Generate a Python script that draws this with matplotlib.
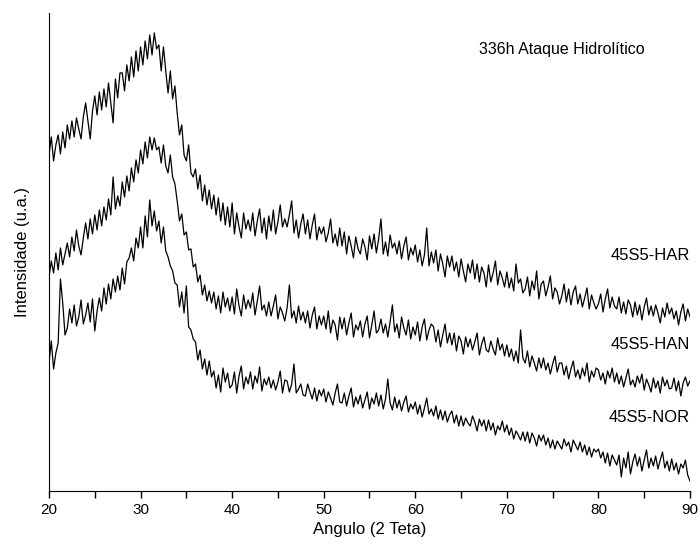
import numpy as np
import matplotlib
matplotlib.use('Agg')
import matplotlib.pyplot as plt
from matplotlib.ticker import MultipleLocator

plt.rcParams['font.family'] = ['Liberation Sans', 'DejaVu Sans']

# 2 Teta de 20 a 90, passo 0.25 (intensidade em u.a.)
angulo = np.arange(20, 90.001, 0.25)

har = [
    336, 354, 330, 346, 356, 337, 359, 343,
    366, 352, 370, 354, 373, 362, 352, 374,
    388, 370, 352, 380, 395, 376, 399, 381,
    402, 384, 408, 388, 368, 412, 393, 418,
    418, 400, 426, 410, 434, 414, 440, 420,
    444, 426, 450, 432, 456, 436, 458, 442,
    446, 420, 444, 420, 398, 420, 392, 405,
    378, 356, 366, 336, 330, 346, 318, 314,
    322, 302, 316, 290, 306, 286, 301, 282,
    296, 276, 293, 270, 288, 266, 284, 264,
    288, 257, 278, 264, 253, 278, 262, 271,
    260, 278, 255, 270, 282, 258, 273, 252,
    275, 260, 281, 257, 269, 286, 264, 272,
    264, 276, 290, 258, 271, 253, 267, 277,
    257, 271, 252, 266, 277, 251, 264, 257,
    264, 249, 258, 272, 248, 257, 245, 263,
    245, 259, 237, 255, 245, 233, 254, 242,
    237, 252, 244, 231, 255, 242, 257, 238,
    252, 272, 237, 249, 235, 256, 243, 248,
    237, 250, 232, 245, 254, 231, 243, 236,
    246, 229, 241, 225, 236, 263, 225, 239,
    228, 241, 220, 237, 227, 214, 235, 224,
    235, 220, 229, 214, 232, 220, 209, 227,
    218, 231, 212, 227, 209, 224, 218, 204,
    226, 209, 218, 230, 206, 220, 213, 204,
    219, 203, 213, 200, 227, 208, 212, 198,
    202, 214, 195, 210, 201, 220, 192, 207,
    210, 195, 204, 215, 192, 203, 199, 187,
    195, 207, 189, 202, 186, 199, 205, 187,
    197, 184, 193, 203, 182, 196, 188, 182,
    187, 197, 179, 192, 202, 183, 194, 185,
    182, 194, 178, 189, 177, 191, 186, 174,
    189, 176, 186, 171, 184, 193, 176, 185,
    175, 186, 178, 168, 183, 174, 188, 177,
    183, 172, 180, 166, 179, 187, 170, 182,
    174,
]

han = [
    214, 230, 218, 238, 221, 243, 226, 237,
    248, 234, 254, 240, 261, 245, 236, 253,
    268, 252, 272, 257, 276, 261, 281, 265,
    284, 271, 292, 276, 314, 282, 295, 285,
    309, 294, 315, 300, 323, 309, 331, 318,
    341, 327, 349, 333, 354, 341, 353, 341,
    344, 328, 346, 325, 318, 336, 314, 307,
    290, 270, 277, 256, 259, 241, 242, 224,
    227, 209, 216, 196, 206, 190, 200, 188,
    199, 182, 195, 178, 199, 184, 193, 180,
    194, 177, 202, 185, 175, 196, 182, 191,
    183, 198, 176, 190, 205, 181, 186, 175,
    189, 175, 185, 196, 172, 184, 178, 170,
    183, 206, 173, 180, 168, 185, 171, 179,
    168, 180, 163, 176, 184, 162, 175, 166,
    175, 162, 180, 158, 171, 166, 151, 174,
    162, 173, 156, 168, 178, 154, 166, 161,
    170, 154, 167, 175, 153, 166, 180, 158,
    161, 172, 158, 167, 154, 169, 186, 159,
    167, 153, 174, 163, 156, 171, 152, 164,
    156, 169, 150, 164, 172, 151, 161, 167,
    164, 149, 161, 144, 156, 167, 148, 158,
    146, 158, 140, 155, 150, 137, 154, 144,
    152, 141, 149, 158, 136, 147, 154, 141,
    139, 150, 142, 136, 153, 141, 147, 135,
    146, 134, 142, 130, 140, 128, 161, 133,
    128, 140, 124, 135, 128, 120, 133, 123,
    133, 121, 128, 117, 127, 135, 119, 128,
    128, 116, 125, 112, 122, 130, 114, 121,
    112, 123, 115, 128, 109, 120, 114, 123,
    121, 111, 118, 107, 120, 113, 123, 109,
    118, 107, 115, 104, 113, 122, 106, 111,
    104, 115, 108, 117, 101, 112, 106, 99,
    113, 103, 110, 98, 114, 105, 111, 102,
    103, 113, 100, 110, 95, 108, 114, 105,
    110,
]

nor = [
    128, 150, 122, 138, 148, 212, 188, 156,
    163, 182, 168, 186, 165, 174, 191, 167,
    176, 188, 169, 192, 160, 180, 193, 180,
    203, 187, 207, 192, 212, 199, 215, 201,
    223, 207, 229, 233, 243, 230, 253, 243,
    264, 243, 275, 254, 291, 265, 280, 260,
    270, 248, 264, 240, 234, 225, 220, 208,
    206, 184, 199, 178, 205, 164, 161, 152,
    149, 131, 141, 122, 132, 116, 130, 114,
    120, 103, 116, 99, 123, 109, 118, 103,
    106, 119, 98, 115, 125, 102, 114, 107,
    119, 102, 115, 108, 124, 100, 112, 106,
    114, 103, 111, 101, 109, 120, 98, 111,
    110, 99, 107, 127, 98, 102, 107, 96,
    95, 107, 99, 92, 103, 90, 101, 95,
    102, 89, 99, 93, 86, 98, 107, 89,
    88, 98, 85, 95, 103, 84, 94, 87,
    96, 83, 91, 99, 82, 93, 87, 98,
    85, 96, 82, 92, 112, 88, 81, 94,
    83, 91, 80, 89, 95, 79, 87, 82,
    89, 77, 86, 74, 83, 93, 77, 82,
    75, 85, 72, 81, 71, 80, 69, 76,
    80, 68, 76, 65, 75, 65, 73, 68,
    65, 75, 69, 60, 72, 65, 71, 60,
    71, 61, 68, 56, 65, 61, 70, 59,
    66, 56, 63, 52, 60, 56, 51, 59,
    50, 59, 48, 58, 53, 45, 56, 50,
    56, 46, 53, 43, 51, 42, 50, 46,
    42, 52, 45, 49, 39, 51, 46, 41,
    49, 39, 46, 36, 44, 34, 42, 39,
    42, 33, 39, 28, 38, 25, 36, 31,
    26, 36, 14, 33, 23, 39, 17, 29,
    37, 25, 34, 20, 31, 41, 23, 33,
    25, 35, 22, 31, 39, 23, 30, 20,
    32, 21, 28, 17, 27, 23, 31, 16,
    10,
]

rotulos = ['45S5-HAR', '45S5-HAN', '45S5-NOR']
pos_rotulos = [235, 146, 73]

fig = plt.figure(figsize=(7, 5.54), dpi=100)
ax = fig.add_axes([0.07, 0.1137, 0.9157, 0.863])

for serie in [har, han, nor]:
    ax.plot(angulo, serie, color='black', linewidth=0.9)

ax.set_xlim(20, 90)
ax.set_ylim(0, 478)

for txt, y in zip(rotulos, pos_rotulos):
    ax.text(90, y, txt, ha='right', va='center', fontsize=12)
ax.text(76, 441, '336h Ataque Hidrolítico', ha='center', va='center', fontsize=11.5)

ax.spines['top'].set_visible(False)
ax.spines['right'].set_visible(False)
ax.set_yticks([])
ax.xaxis.set_major_locator(MultipleLocator(10))
ax.xaxis.set_minor_locator(MultipleLocator(5))
ax.tick_params(axis='x', which='both', direction='out', length=5, width=1, labelsize=11)
ax.set_xlabel('Angulo (2 Teta)', fontsize=12, labelpad=4)
ax.set_ylabel('Intensidade (u.a.)', fontsize=12, labelpad=14)

fig.savefig('out.png', dpi=100)
